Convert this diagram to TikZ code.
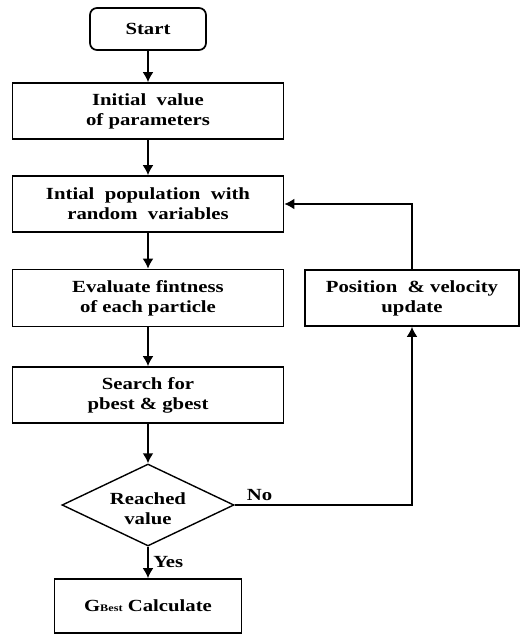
\documentclass[tikz,border=0pt]{standalone}
\usepackage{fontspec}
\setmainfont{Liberation Serif}[FakeStretch=1.22]
\usetikzlibrary{shapes.geometric,arrows.meta}
\tikzset{
  stepbox/.style={draw, line width=1.7pt, minimum width=271pt, minimum height=56pt, align=center},
  flow/.style={-{Latex[length=10pt,width=11pt]}, line width=1.9pt},
}
\begin{document}
\begin{tikzpicture}[x=1pt,y=-1pt,font=\fontsize{17}{20}\selectfont\bfseries]
\useasboundingbox (0,0) rectangle (520,635);
\node[draw, line width=1.7pt, rounded corners=7pt, minimum width=116pt, minimum height=42pt] (start) at (148,29) {Start};
\node[stepbox] (init) at (148,111) {Initial\ \ value\\of parameters};
\node[stepbox] (pop) at (148,204) {Intial\ \ population\ \ with\\random\ \ variables};
\node[stepbox, minimum height=57pt] (eval) at (148,298) {Evaluate\ fintness\\of each particle};
\node[stepbox] (search) at (148,395) {Search for\\pbest \& gbest};
\node[draw, diamond, line width=1.4pt, minimum width=172pt, minimum height=82pt, inner sep=0pt,
  label={[align=center, yshift=-4pt]center:Reached\\value}] (reach) at (148,505) {};
\node[stepbox, minimum width=187pt, minimum height=54pt] (gbest) at (148,606) {G{\fontsize{10}{10}\selectfont Best} Calculate};
\node[stepbox, minimum width=214pt, minimum height=56pt] (pos) at (412,298) {Position\ \ \& velocity\\update};
% main line
\draw[flow] (start) -- (init);
\draw[flow] (init) -- (pop);
\draw[flow] (pop) -- (eval);
\draw[flow] (eval) -- (search);
\draw[flow] (search) -- (reach);
\draw[flow] (reach) -- node[right, xshift=1pt]{Yes} (gbest);
% loop back
\draw[flow] (reach.east) -- node[above, pos=0.14]{No} (pos.south |- reach.east) -- (pos.south);
\draw[flow] (pos.north) |- (pop.east);
\end{tikzpicture}
\end{document}
